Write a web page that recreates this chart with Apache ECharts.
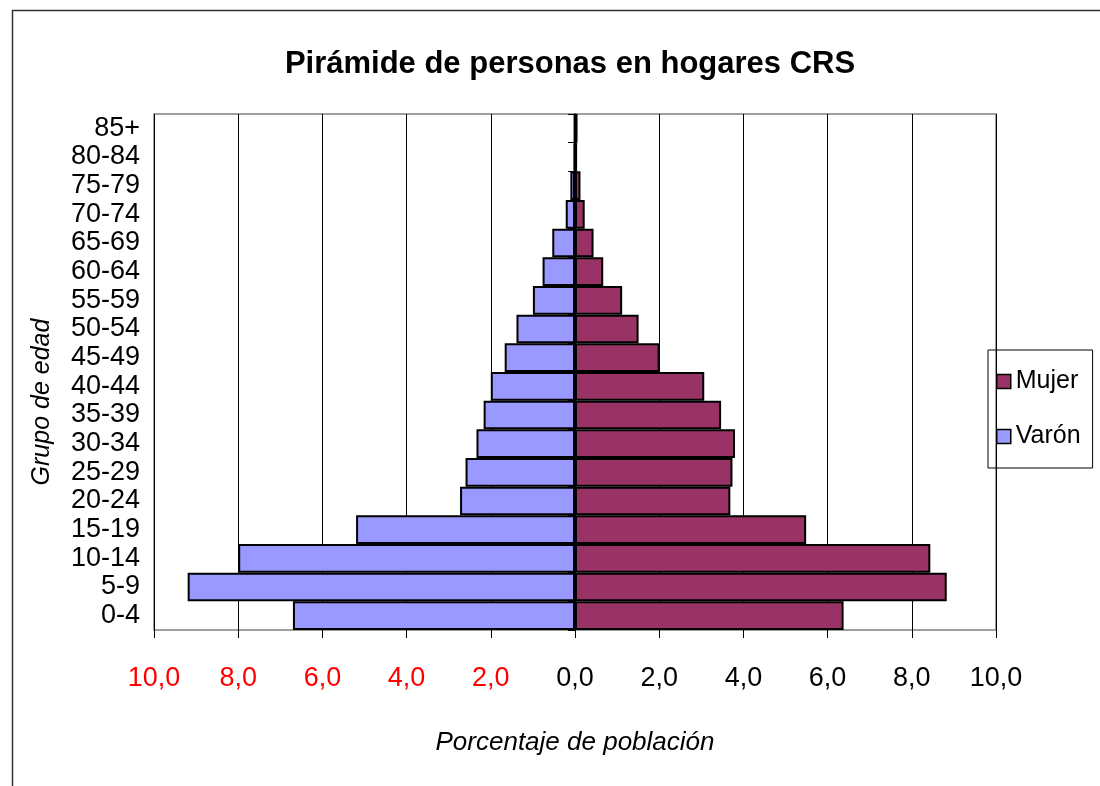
<!DOCTYPE html>
<html>
<head>
<meta charset="utf-8">
<script src="https://cdn.jsdelivr.net/npm/echarts@6/dist/echarts.min.js"></script>
<style>
  html, body { margin: 0; padding: 0; background: #fff; }
  #container { width: 1100px; height: 786px; }
</style>
</head>
<body>
<div id="container"></div>
<script>
var ageGroups = ['0-4', '5-9', '10-14', '15-19', '20-24', '25-29', '30-34', '35-39', '40-44',
    '45-49', '50-54', '55-59', '60-64', '65-69', '70-74', '75-79', '80-84', '85+'];
var varon = [6.7, 9.2, 8.0, 5.2, 2.73, 2.6, 2.34, 2.17, 2.0, 1.67, 1.39, 1.0, 0.77, 0.54, 0.22, 0.11, 0.03, 0.02];
var mujer = [6.38, 8.83, 8.44, 5.49, 3.69, 3.74, 3.8, 3.47, 3.07, 2.01, 1.51, 1.12, 0.67, 0.44, 0.23, 0.13, 0.05, 0.06];
var xTicks = [-10, -8, -6, -4, -2, 0, 2, 4, 6, 8, 10];

var font = "'Liberation Sans', Arial, sans-serif";

var myChart = echarts.init(document.getElementById('container'));

myChart.setOption({
    animation: false,
    backgroundColor: '#fff',
    title: {
        text: 'Pirámide de personas en hogares CRS',
        left: 565,
        top: 44,
        textAlign: 'center',
        textStyle: { fontFamily: font, fontWeight: 'bold', fontSize: 31, color: '#000' }
    },
    graphic: [{
        type: 'rect',
        shape: { x: 12.5, y: 10.5, width: 2000, height: 2000 },
        style: { fill: 'none', stroke: '#333', lineWidth: 1.5 },
        silent: true
    }, {
        // y axis title, placed a bit below the plot's middle as in the original
        type: 'text',
        x: 42,
        y: 402,
        rotation: Math.PI / 2,
        style: {
            text: 'Grupo de edad',
            font: 'italic 25px ' + font,
            fill: '#000',
            align: 'center',
            verticalAlign: 'middle'
        },
        silent: true
    }],
    legend: {
        data: ['Mujer', 'Varón'],
        orient: 'vertical',
        left: 988,
        top: 350,
        padding: [19, 12, 19, 8],
        itemGap: 30,
        itemWidth: 14,
        itemHeight: 14,
        icon: 'rect',
        borderColor: '#000',
        borderWidth: 1,
        textStyle: { fontFamily: font, fontSize: 25, color: '#000' },
        itemStyle: { borderColor: '#000', borderWidth: 1.5 }
    },
    grid: {
        left: 154,
        right: 104,
        top: 114,
        bottom: 156,
        show: true,
        borderColor: '#808080',
        borderWidth: 1.5
    },
    xAxis: {
        type: 'value',
        min: xTicks[0],
        max: xTicks[xTicks.length - 1],
        interval: 2,
        name: 'Porcentaje de población',
        nameLocation: 'middle',
        nameGap: 100,
        nameTextStyle: { fontFamily: font, fontStyle: 'italic', fontSize: 26, color: '#000' },
        axisLine: { onZero: false, lineStyle: { color: '#000', width: 1.5 } },
        axisTick: { show: true, length: 8, lineStyle: { color: '#000' } },
        splitLine: { show: true, lineStyle: { color: '#000', width: 1 } },
        axisLabel: {
            margin: 35,
            fontFamily: font,
            fontSize: 27,
            formatter: function (v) { return Math.abs(v).toFixed(1).replace('.', ','); },
            color: function (v) { return Number(v) < 0 ? '#ff0000' : '#000'; }
        }
    },
    yAxis: [{
        type: 'category',
        data: ageGroups,
        axisLine: { show: false, onZero: false },
        axisTick: { show: false },
        axisLabel: { interval: 0, margin: 14, fontFamily: font, fontSize: 27, color: '#000' }
    }, {
        type: 'category',
        data: ageGroups,
        position: 'left',
        axisLine: { show: true, onZero: true, lineStyle: { color: '#000', width: 1.5 } },
        axisTick: { show: true, interval: 0, length: 7, lineStyle: { color: '#000' } },
        axisLabel: { show: false }
    }],
    series: [{
        name: 'Varón',
        type: 'bar',
        stack: 'pop',
        yAxisIndex: 0,
        barWidth: '100%',
        barCategoryGap: 0,
        itemStyle: { color: '#9999ff', borderColor: '#000', borderWidth: 2 },
        data: varon.map(function (v) { return -v; })
    }, {
        name: 'Mujer',
        type: 'bar',
        stack: 'pop',
        yAxisIndex: 0,
        barWidth: '100%',
        barCategoryGap: 0,
        itemStyle: { color: '#993366', borderColor: '#000', borderWidth: 2 },
        data: mujer
    }]
});
</script>
</body>
</html>
